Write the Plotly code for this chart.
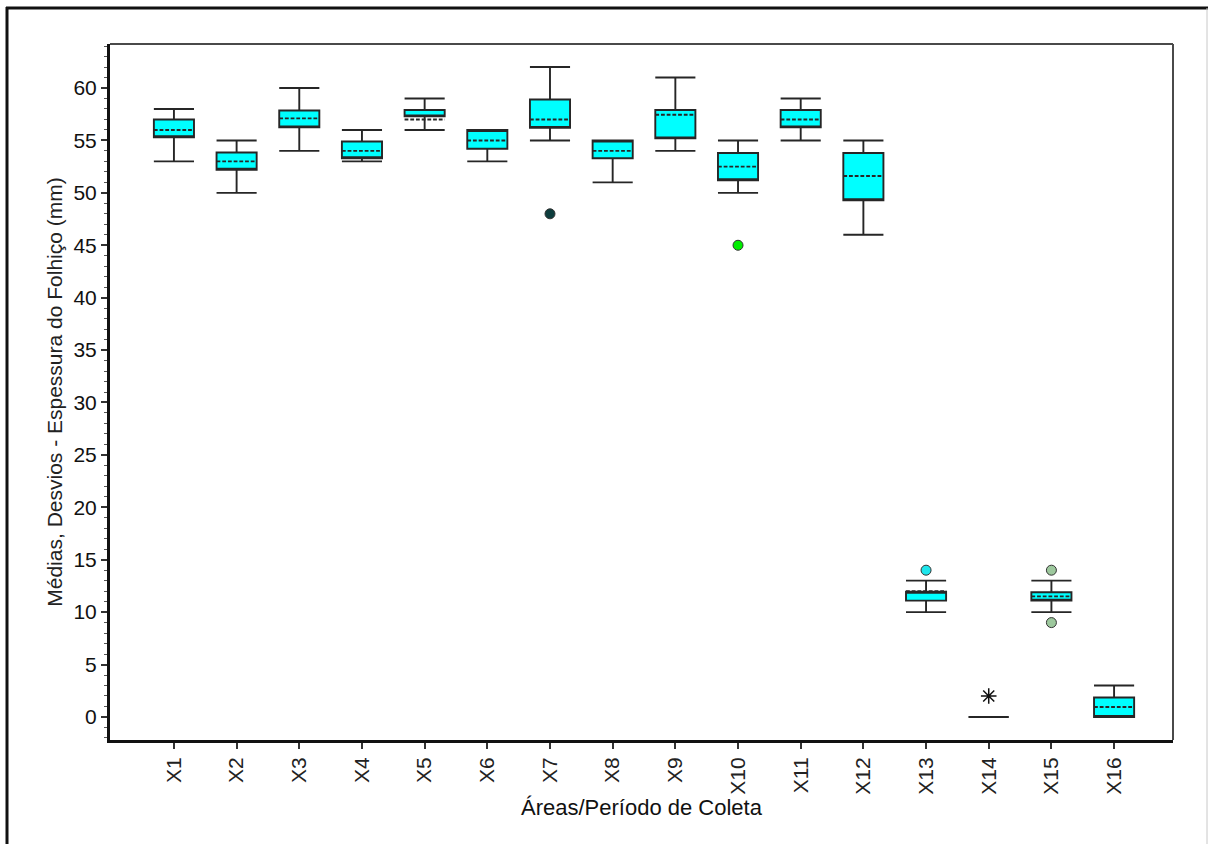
import plotly.graph_objects as go

# Areas / collection periods
categories = ["X1", "X2", "X3", "X4", "X5", "X6", "X7", "X8",
              "X9", "X10", "X11", "X12", "X13", "X14", "X15", "X16"]

# Box statistics of litter thickness (mm)
lower_fence = [53, 50, 54, 53, 56, 53, 55, 51, 54, 50, 55, 46, 10, 0, 10, 0]
q1_values = [55.3, 52.2, 56.25, 53.3, 57.3, 54.2, 56.2, 53.3, 55.2, 51.2, 56.25, 49.3, 11.1, 0, 11.1, 0]
median_values = [55.3, 52.2, 56.25, 53.3, 57.3, 56.0, 56.2, 55.0, 55.2, 51.2, 56.25, 49.3, 11.95, 0, 11.1, 0]
q3_values = [57.0, 53.85, 57.85, 54.9, 57.9, 56.0, 58.9, 55.0, 57.9, 53.8, 57.9, 53.8, 11.95, 0, 11.9, 1.85]
upper_fence = [58, 55, 60, 56, 59, 56, 62, 55, 61, 55, 59, 55, 13, 0, 13, 3]
mean_values = [56, 53, 57.1, 54, 57, 55, 57, 54, 57.45, 52.5, 57, 51.6, 12, 0, 11.5, 0.95]

# Outlying observations
outlier_cats = ["X7", "X10", "X13", "X15", "X15"]
outlier_vals = [48, 45, 14, 14, 9]
outlier_colors = ["#0d3d3d", "#00ee00", "#1ee6ec", "#9dc89d", "#9dc89d"]

# Extreme value
extreme_cats = ["X14"]
extreme_vals = [2]

FONT = "Liberation Sans, Arial, sans-serif"

fig = go.Figure()

fig.add_trace(go.Box(
    x=categories,
    q1=q1_values,
    median=median_values,
    q3=q3_values,
    lowerfence=lower_fence,
    upperfence=upper_fence,
    mean=mean_values,
    boxmean=True,
    boxpoints=False,
    width=0.64,
    whiskerwidth=1,
    fillcolor="#00ffff",
    line=dict(color="#262626", width=1.9),
    showlegend=False,
    hoverinfo="skip",
))

fig.add_trace(go.Scatter(
    x=outlier_cats,
    y=outlier_vals,
    mode="markers",
    marker=dict(size=10, color=outlier_colors,
                line=dict(color="#333333", width=1)),
    showlegend=False,
    hoverinfo="skip",
))

fig.add_trace(go.Scatter(
    x=extreme_cats,
    y=extreme_vals,
    mode="markers",
    marker=dict(symbol="asterisk-open", size=13, color="#111111",
                line=dict(color="#111111", width=1.5)),
    showlegend=False,
    hoverinfo="skip",
))

# pixel helpers for frame decorations (plot area: x 110..1173, y 44..740)
def xp(px):
    return (px - 110) / 1063.0

def yp(py):
    return (740 - py) / 696.0

shapes = [
    # top and right plot borders
    dict(type="line", xref="paper", yref="paper", x0=0, x1=1, y0=1, y1=1,
         line=dict(color="#4a4a4a", width=2)),
    dict(type="line", xref="paper", yref="paper", x0=1, x1=1, y0=0, y1=1,
         line=dict(color="#4a4a4a", width=2)),
    # outer frame
    dict(type="line", xref="paper", yref="paper", x0=xp(7), x1=xp(7),
         y0=yp(7), y1=yp(846), line=dict(color="#111111", width=3)),
    dict(type="line", xref="paper", yref="paper", x0=xp(6), x1=xp(1210),
         y0=yp(8), y1=yp(8), line=dict(color="#111111", width=3)),
    dict(type="line", xref="paper", yref="paper", x0=xp(1207), x1=xp(1207),
         y0=yp(8), y1=yp(846), line=dict(color="#c8c8c8", width=1)),
]

fig.update_layout(
    width=1208,
    height=844,
    margin=dict(l=110, r=35, t=44, b=104, autoexpand=False),
    paper_bgcolor="white",
    plot_bgcolor="white",
    font=dict(family=FONT, color="#111111"),
    shapes=shapes,
    xaxis=dict(
        type="category",
        categoryorder="array",
        categoryarray=categories,
        range=[-1.02, 15.94],
        showgrid=False,
        zeroline=False,
        showline=True,
        linecolor="#111111",
        linewidth=3,
        ticks="outside",
        ticklen=6,
        tickwidth=1.5,
        tickcolor="#333333",
        tickangle=-90,
        tickfont=dict(family=FONT, size=21, color="#222222"),
        title=dict(text="Áreas/Período de Coleta",
                   font=dict(family=FONT, size=22, color="#111111"),
                   standoff=0),
    ),
    yaxis=dict(
        range=[-2.2, 64.2],
        tickmode="linear",
        tick0=0,
        dtick=5,
        showgrid=False,
        zeroline=False,
        showline=True,
        linecolor="#111111",
        linewidth=3,
        ticks="outside",
        ticklen=6,
        tickwidth=1.5,
        tickcolor="#333333",
        tickfont=dict(family=FONT, size=21, color="#111111"),
        minor=dict(dtick=1, tick0=0, ticks="outside", ticklen=3,
                   tickwidth=1, tickcolor="#555555", showgrid=False),
        title=dict(text="Médias, Desvios - Espessura do Folhiço (mm)",
                   font=dict(family=FONT, size=21, color="#222222"),
                   standoff=6),
    ),
)

fig.write_html("out.html")
